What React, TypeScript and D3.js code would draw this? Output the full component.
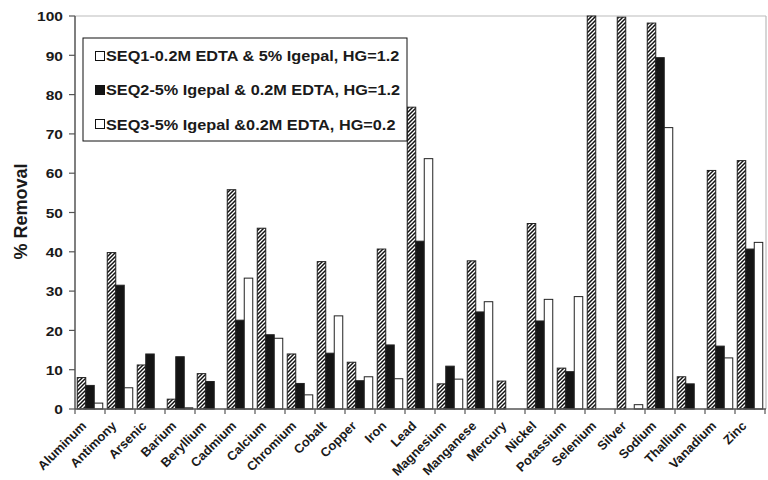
import React from "react";
import * as d3 from "d3";

const categories = ["Aluminum","Antimony","Arsenic","Barium","Beryllium","Cadmium","Calcium","Chromium","Cobalt","Copper","Iron","Lead","Magnesium","Manganese","Mercury","Nickel","Potassium","Selenium","Silver","Sodium","Thallium","Vanadium","Zinc"];
const seq1 = [8,39.8,11.2,2.5,9,55.8,46,14,37.5,11.9,40.7,76.8,6.4,37.7,7.1,47.2,10.4,100,99.7,98.2,8.2,60.7,63.2];
const seq2 = [6,31.5,14,13.3,7,22.6,18.9,6.5,14.2,7.2,16.3,42.7,10.9,24.7,0,22.4,9.5,0,0,89.4,6.4,16,40.7];
const seq3 = [1.5,5.4,0,0.3,0,33.3,18,3.6,23.7,8.2,7.7,63.7,7.6,27.3,0,27.9,28.6,0,1.1,71.6,0,13,42.4];
const seriesNames = ["SEQ1-0.2M EDTA & 5% Igepal, HG=1.2","SEQ2-5% Igepal & 0.2M EDTA, HG=1.2","SEQ3-5% Igepal &0.2M EDTA, HG=0.2"];
const yTicks = [0,10,20,30,40,50,60,70,80,90,100];

export default function App() {
  const W = 768, H = 480;
  const left = 75, right = 765, top = 16, bottom = 409;
  const x = d3.scaleBand<string>().domain(categories).range([left, right]).paddingInner(0).paddingOuter(0);
  const sub = d3.scaleBand<number>().domain([0,1,2]).range([2.25, 27.75]).padding(0);
  const y = d3.scaleLinear().domain([0,100]).range([bottom, top]);
  const series = [seq1, seq2, seq3];
  const fills = ["url(#hatch)", "#141414", "#ffffff"];
  const font = "'Liberation Sans', Arial, Helvetica, sans-serif";
  const bw = sub.bandwidth();

  return (
    <svg width={W} height={H} style={{position:"absolute", left:0, top:0, background:"#fff"}} fontFamily={font}>
      <defs>
        <pattern id="hatch" patternUnits="userSpaceOnUse" width={4} height={4}>
          <rect width={4} height={4} fill="#fff" />
          <path d="M-1,1 l2,-2 M0,4 l4,-4 M3,5 l2,-2" stroke="#111" strokeWidth={1.5} />
        </pattern>
      </defs>
      <rect x={0} y={0} width={W} height={H} fill="#fff" />
      <line x1={left} x2={right+1} y1={top} y2={top} stroke="#bbb" strokeWidth={1.2} />
      <line x1={right+1} x2={right+1} y1={top} y2={bottom} stroke="#bbb" strokeWidth={1.2} />
      {series.map((s, si) => (
        <g key={si}>
          {categories.map((c, i) => s[i] > 0 ? (
            <rect key={c}
              x={(x(c) as number) + (sub(si) as number)}
              y={y(s[i])}
              width={bw}
              height={bottom - y(s[i])}
              fill={fills[si]}
              stroke="#222" strokeWidth={1} />
          ) : null)}
        </g>
      ))}
      <line x1={left} x2={left} y1={top} y2={bottom} stroke="#555" strokeWidth={1.5} />
      <line x1={left} x2={right+1} y1={bottom} y2={bottom} stroke="#555" strokeWidth={1.5} />
      {yTicks.map(t => (
        <g key={t}>
          <line x1={left-6} x2={left} y1={y(t)} y2={y(t)} stroke="#555" strokeWidth={1.2} />
          <text transform={`translate(63,${y(t) + 5.2}) scale(1.15,1)`} textAnchor="end" fontSize={13.5} fontWeight="bold" fill="#1a1a1a">{t}</text>
        </g>
      ))}
      {categories.map(c => (
        <line key={c} x1={x(c) as number} x2={x(c) as number} y1={bottom} y2={bottom+5} stroke="#555" strokeWidth={1.2} />
      ))}
      <line x1={right} x2={right} y1={bottom} y2={bottom+5} stroke="#555" strokeWidth={1.2} />
      {categories.map(c => {
        const cx = (x(c) as number) + x.bandwidth()/2 - 6;
        const cy = bottom + 14.5;
        return (
          <text key={c} transform={`translate(${cx},${cy}) rotate(-45)`} textAnchor="end" fontSize={12.8} fontWeight="bold" fill="#1a1a1a" dy="0.35em">{c}</text>
        );
      })}
      <text transform={`translate(26.5,211.5) rotate(-90)`} textAnchor="middle" fontSize={18} fontWeight="bold" fill="#1a1a1a">% Removal</text>
      <rect x={83} y={38} width={324} height={103} fill="#fff" stroke="#111" strokeWidth={1} />
      {seriesNames.map((n, i) => (
        <g key={n}>
          <rect x={95.5} y={51.5 + i*34} width={9} height={9} fill={i === 1 ? "#141414" : "#fff"} stroke="#111" strokeWidth={1} />
          <text transform={`translate(106,${61 + i*34.3}) scale(1.13,1)`} fontSize={14.4} fontWeight="bold" fill="#1a1a1a">{n}</text>
        </g>
      ))}
    </svg>
  );
}
